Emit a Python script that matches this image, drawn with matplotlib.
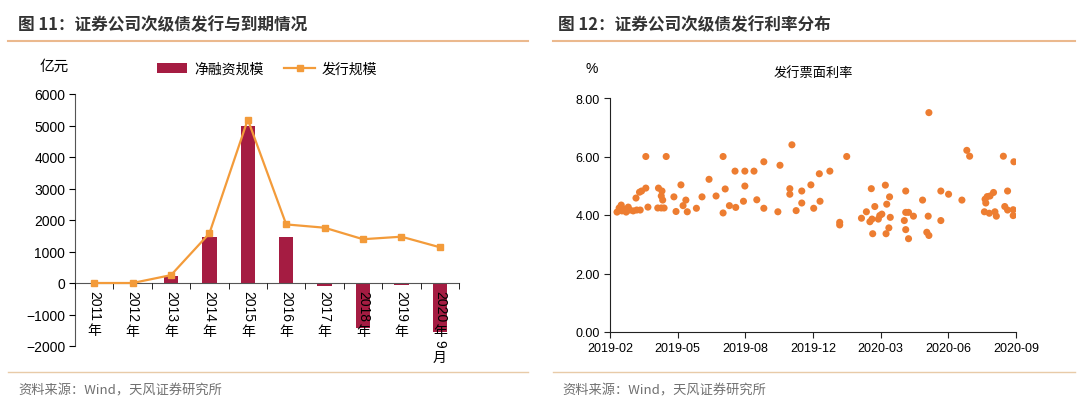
import matplotlib
matplotlib.use('Agg')
import matplotlib.pyplot as plt
from matplotlib.lines import Line2D
import pandas as pd

plt.rcParams['font.family'] = ['Liberation Sans', 'Noto Sans CJK SC', 'DejaVu Sans']

# 图11 data (亿元)
years = ['2011年', '2012年', '2013年', '2014年', '2015年', '2016年',
         '2017年', '2018年', '2019年', '2020年9月']
net_financing = [0, 0, 230, 1475, 4980, 1455, -85, -1420, -60, -1550]
issuance = [0, 0, 250, 1575, 5190, 1860, 1755, 1390, 1470, 1135]

# 图12 data: issue date and coupon rate (%)
issue_dates = [
    '2019-02-25', '2019-02-28', '2019-03-03', '2019-03-04', '2019-03-07', '2019-03-10',
    '2019-03-13', '2019-03-15', '2019-03-20', '2019-03-25', '2019-03-30', '2019-03-24',
    '2019-03-29', '2019-04-01', '2019-04-07', '2019-04-07', '2019-04-10', '2019-04-25',
    '2019-04-30', '2019-04-29', '2019-05-01', '2019-04-24', '2019-04-29', '2019-05-03',
    '2019-05-06', '2019-05-17', '2019-05-20', '2019-05-27', '2019-05-30', '2019-06-03',
    '2019-06-05', '2019-06-18', '2019-06-26', '2019-07-06', '2019-07-16', '2019-07-26',
    '2019-07-26', '2019-07-29', '2019-08-04', '2019-08-12', '2019-08-13', '2019-08-24',
    '2019-08-26', '2019-08-26', '2019-09-08', '2019-09-12', '2019-09-22', '2019-09-22',
    '2019-10-12', '2019-10-15', '2019-10-29', '2019-10-29', '2019-11-01', '2019-11-07',
    '2019-11-15', '2019-11-15', '2019-11-28', '2019-12-02', '2019-12-10', '2019-12-11',
    '2019-12-25', '2020-01-08', '2020-01-08', '2020-01-18', '2020-02-08', '2020-02-15',
    '2020-02-22', '2020-02-23', '2020-02-20', '2020-02-24', '2020-02-27', '2020-03-05',
    '2020-03-08', '2020-03-03', '2020-03-13', '2020-03-14', '2020-03-15', '2020-03-19',
    '2020-03-18', '2020-03-20', '2020-04-09', '2020-04-11', '2020-04-11', '2020-04-15',
    '2020-04-11', '2020-04-15', '2020-04-22', '2020-05-05', '2020-05-11', '2020-05-13',
    '2020-05-14', '2020-05-14', '2020-05-31', '2020-05-31', '2020-06-11', '2020-06-30',
    '2020-07-07', '2020-07-11', '2020-08-02', '2020-08-05', '2020-08-09', '2020-08-14',
    '2020-08-03', '2020-08-01', '2020-08-08', '2020-08-16', '2020-08-18', '2020-08-28',
    '2020-08-30', '2020-09-03', '2020-09-03', '2020-09-11', '2020-09-11', '2020-09-12',
]
coupon_rates = [
    4.10, 4.24, 4.34, 4.14, 4.20, 4.10, 4.27, 4.17, 4.14, 4.17, 4.17, 4.58,
    4.78, 4.82, 4.92, 6.00, 4.27, 4.92, 4.82, 4.65, 4.51, 4.24, 4.24, 4.24,
    6.00, 4.62, 4.12, 5.03, 4.32, 4.51, 4.11, 4.23, 4.62, 5.22, 4.65, 6.00,
    4.07, 4.89, 4.32, 5.50, 4.26, 4.47, 4.99, 5.50, 5.50, 4.52, 5.82, 4.23,
    4.11, 5.70, 4.90, 4.71, 6.40, 4.15, 4.82, 4.41, 5.03, 4.23, 5.41, 4.47,
    5.50, 3.75, 3.66, 6.00, 3.89, 4.11, 4.90, 3.86, 3.77, 3.36, 4.29, 3.98,
    4.03, 3.86, 5.02, 3.36, 4.37, 4.62, 3.56, 3.92, 3.81, 4.82, 4.09, 4.09,
    3.50, 3.19, 3.96, 4.51, 3.41, 3.96, 7.50, 3.30, 4.82, 3.81, 4.71, 4.51,
    6.21, 6.01, 4.54, 4.63, 4.65, 4.77, 4.41, 4.11, 4.06, 4.11, 3.96, 6.01,
    4.29, 4.82, 4.17, 4.18, 3.98, 5.82,
]
date_labels = ['2019-02', '2019-05', '2019-08', '2019-12', '2020-03', '2020-06', '2020-09']

bar_color = '#A51C42'
line_color = '#F39B3A'
dot_color = '#ED7D31'
rule_color = '#EBB98E'

fig = plt.figure(figsize=(10.8, 4.14), dpi=100)

# Headers and footers
fig.text(18 / 1080, 1 - 25 / 414, '图 11：证券公司次级债发行与到期情况', fontsize=12,
         fontweight='bold', color='#333333', va='center', family=['Noto Sans CJK SC'])
fig.text(558 / 1080, 1 - 25 / 414, '图 12：证券公司次级债发行利率分布', fontsize=12,
         fontweight='bold', color='#333333', va='center', family=['Noto Sans CJK SC'])
fig.add_artist(Line2D([8 / 1080, 528 / 1080], [1 - 42 / 414] * 2, color=rule_color, lw=1.5))
fig.add_artist(Line2D([553 / 1080, 1075 / 1080], [1 - 42 / 414] * 2, color=rule_color, lw=1.5))
fig.add_artist(Line2D([8 / 1080, 528 / 1080], [1 - 373 / 414] * 2, color='#E8CBA8', lw=1))
fig.add_artist(Line2D([553 / 1080, 1075 / 1080], [1 - 373 / 414] * 2, color='#E8CBA8', lw=1))
fig.text(18 / 1080, 1 - 391 / 414, '资料来源：Wind，天风证券研究所', fontsize=9.5,
         color='#707070', va='center', family=['Noto Sans CJK SC'])
fig.text(562 / 1080, 1 - 391 / 414, '资料来源：Wind，天风证券研究所', fontsize=9.5,
         color='#707070', va='center', family=['Noto Sans CJK SC'])

# Left chart
ax1 = fig.add_axes([75 / 1080, 67 / 414, 384 / 1080, 252 / 414])
ax1.set_axisbelow(False)
x = list(range(len(years)))
bars = ax1.bar(x, net_financing, width=0.38, color=bar_color, label='净融资规模', zorder=2)
line, = ax1.plot(x, issuance, color=line_color, lw=1.6, marker='s', markersize=5,
                 label='发行规模', zorder=3)
ax1.set_xlim(-0.5, len(years) - 0.5)
ax1.set_ylim(-2000, 6000)
ax1.set_yticks(range(-2000, 6001, 1000))
ax1.tick_params(axis='y', labelsize=10, length=4, direction='out', pad=3)
for s in ['top', 'right']:
    ax1.spines[s].set_visible(False)
ax1.spines['bottom'].set_position(('data', 0))
ax1.spines['bottom'].set_color('#555555')
ax1.spines['left'].set_color('#555555')
ax1.set_xticks(x)
ax1.set_xticklabels([])
ax1.set_xticks([i - 0.5 for i in range(len(years) + 1)], minor=True)
ax1.tick_params(axis='x', which='major', length=0)
ax1.tick_params(axis='x', which='minor', length=4, direction='out')

# vertical category labels: digits turned, CJK characters upright
fs = 10
renderer = fig.canvas.get_renderer()
for xi, lab in zip(x, years):
    runs = []
    for ch in lab:
        if ch.isdigit() and runs and runs[-1][0] == 'd':
            runs[-1][1] += ch
        else:
            runs.append(['d' if ch.isdigit() else 'c', ch])
    off = -5.0
    for kind, txt in runs:
        if kind == 'd':
            t = ax1.annotate(txt, (xi, 0), xytext=(0, off), textcoords='offset points',
                             rotation=270, rotation_mode='anchor', ha='left', va='center',
                             fontsize=fs, annotation_clip=False, zorder=6)
            w = t.get_window_extent(renderer).height * 72 / fig.dpi
            off -= w + 2.0
        else:
            ax1.annotate(txt, (xi, 0), xytext=(0, off), textcoords='offset points',
                         ha='center', va='top', fontsize=fs,
                         family=['Noto Sans CJK SC'], annotation_clip=False, zorder=6)
            off -= fs * 1.1

ax1.text(-35 / 384, 1.11, '亿元', transform=ax1.transAxes, fontsize=10.5,
         va='center', family=['Noto Sans CJK SC'])
ax1.legend([bars, line], ['净融资规模', '发行规模'], loc='center',
           bbox_to_anchor=(0.5, 1.1), ncol=2, frameon=False,
           handlelength=2.2, columnspacing=1.5, handletextpad=0.5,
           prop={'family': ['Noto Sans CJK SC'], 'size': 10})

# Right chart
ax2 = fig.add_axes([610 / 1080, 81 / 414, 406 / 1080, 234 / 414])
dates = pd.to_datetime(issue_dates)
ax2.scatter(dates, coupon_rates, s=26, color=dot_color, edgecolors='none', zorder=3)
start = pd.Timestamp('2019-02-15')
end = pd.Timestamp('2020-09-15')
ax2.set_xlim(start, end)
tick_pos = [start + (end - start) * i / 6 for i in range(7)]
ax2.set_xticks(tick_pos)
ax2.set_xticklabels(date_labels, fontsize=9)
ax2.set_ylim(0, 8)
ax2.set_yticks([0, 2, 4, 6, 8])
ax2.set_yticklabels([f'{v:.2f}' for v in [0, 2, 4, 6, 8]], fontsize=9)
ax2.tick_params(length=4, direction='out', color='#222222')
for s in ['top', 'right']:
    ax2.spines[s].set_visible(False)
ax2.spines['left'].set_color('#222222')
ax2.spines['bottom'].set_color('#222222')
ax2.text(-25 / 406, 1.13, '%', transform=ax2.transAxes, fontsize=10, va='center')
ax2.text(0.5, 1.11, '发行票面利率', transform=ax2.transAxes, fontsize=9.5,
         ha='center', va='center', family=['Noto Sans CJK SC'])

fig.savefig('out.png', dpi=100)
